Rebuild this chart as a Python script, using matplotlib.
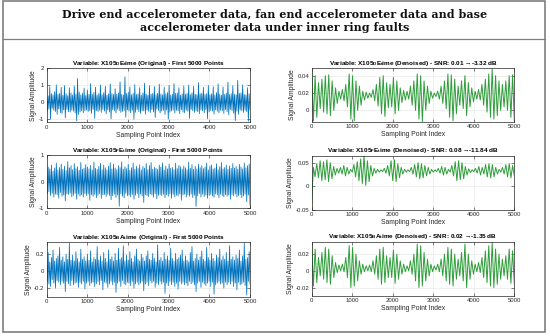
import numpy as np
import matplotlib.pyplot as plt
from matplotlib.patches import Rectangle
from matplotlib.lines import Line2D

plt.rcParams["mathtext.fontset"] = "custom"
plt.rcParams["mathtext.bf"] = "Liberation Sans:bold"
plt.rcParams["mathtext.rm"] = "Liberation Sans"

# ---------------------------------------------------------------------------
# Values (raw signals: successive peak values,
# denoised signals: per-cycle highs and lows)
# ---------------------------------------------------------------------------
de_raw = [
    0.45, -0.52, 0.38, -0.41, 0.92, -0.98, 0.51, -0.36, 0.44, -0.48,
    0.62, -0.55, 1.02, -0.71, 0.47, -0.39, 0.52, -0.61, 0.88, -0.66,
    0.41, -0.45, 0.98, -0.92, 0.50, -0.43, 0.39, -0.56, 0.86, -0.58,
    0.55, -0.47, 0.43, -0.52, 0.96, -0.63, 0.48, -1.10, 1.40, -0.72,
    0.60, -0.58, 0.44, -0.49, 0.53, -0.62, 0.84, -0.51, 0.40, -0.46,
    0.72, -0.54, 0.47, -0.50, 1.10, -0.66, 0.46, -0.42, 0.58, -0.95,
    0.89, -0.49, 0.42, -0.55, 0.50, -0.47, 1.02, -0.60, 0.45, -0.43,
    0.56, -0.52, 0.94, -0.68, 0.41, -0.46, 0.49, -0.57, 1.08, -0.98,
    0.52, -0.44, 0.46, -0.51, 0.80, -0.63, 0.48, -0.41, 0.55, -0.49,
    1.20, -0.60, 0.47, -0.54, 0.43, -0.48, 1.50, -0.88, 0.51, -0.45,
    0.58, -0.52, 0.90, -0.62, 0.44, -0.47, 0.52, -1.00, 1.04, -0.59,
    0.46, -0.43, 0.50, -0.55, 0.86, -0.66, 0.42, -0.49, 0.55, -0.51,
    1.12, -0.70, 0.48, -0.46, 0.41, -0.53, 0.98, -0.61, 0.47, -0.44,
    0.52, -0.57, 0.92, -0.90, 0.45, -0.41, 0.53, -0.48, 1.06, -0.63,
    0.49, -0.52, 0.44, -0.47, 0.88, -0.72, 0.50, -0.45, 0.58, -0.99,
    1.00, -0.58, 0.43, -0.51, 0.47, -0.46, 1.10, -0.64, 0.52, -0.48,
    0.55, -0.50, 0.86, -0.67, 0.42, -0.44, 0.49, -0.58, 0.96, -0.62,
    0.48, -0.46, 0.52, -0.53, 1.02, -0.95, 0.45, -0.42, 0.56, -0.50,
    0.94, -0.60, 0.47, -0.49, 0.44, -0.55, 1.15, -0.68, 0.50, -0.46,
    0.53, -0.51, 0.88, -0.63, 0.46, -0.43, 0.51, -0.97, 1.00, -0.57,
    0.45, -0.48, 0.49, -0.52, 0.92, -0.70, 0.43, -0.45, 0.57, -0.53,
    1.08, -0.62, 0.48, -0.47, 0.42, -0.51, 0.90, -0.66, 0.46, -0.44,
    0.54, -0.56, 1.18, -0.74, 0.45, -0.42, 0.50, -0.49, 0.98, -0.64,
    0.47, -1.08, 0.44, -0.53, 1.30, -0.71, 0.52, -0.46, 0.55, -0.50,
    1.02, -0.60, 0.46, -0.48, 0.43, -0.55, 0.86, -1.12, 0.50, -0.45,
]

fe_raw = [
    0.42, -0.45, 0.55, -0.38, 0.48, -0.52, 0.62, -0.44, 0.40, -0.58,
    0.51, -0.47, 0.70, -0.49, 0.44, -0.62, 0.53, -0.41, 0.66, -0.55,
    0.46, -0.50, 0.58, -0.72, 0.42, -0.46, 0.75, -0.48, 0.52, -0.43,
    0.60, -0.57, 0.45, -0.51, 0.68, -0.44, 0.49, -0.66, 0.56, -0.47,
    0.43, -0.54, 0.72, -0.49, 0.47, -0.58, 0.50, -0.45, 0.64, -0.52,
    0.55, -0.46, 0.48, -0.70, 0.61, -0.49, 0.44, -0.55, 0.73, -0.48,
    0.50, -0.60, 0.46, -0.51, 0.57, -0.45, 0.69, -0.63, 0.45, -0.50,
    0.62, -0.48, 0.52, -0.56, 0.44, -0.47, 0.58, -0.52, 0.71, -0.68,
    0.48, -0.53, 0.66, -0.47, 0.51, -0.59, 0.45, -0.50, 0.60, -0.92,
    0.53, -0.46, 0.74, -0.55, 0.47, -0.61, 0.56, -0.44, 0.49, -0.53,
    0.65, -0.50, 0.43, -0.57, 0.52, -0.48, 0.70, -0.66, 0.46, -0.51,
    0.58, -0.45, 0.49, -0.60, 0.63, -0.47, 0.44, -0.54, 0.57, -0.78,
    0.51, -0.49, 0.68, -0.52, 0.45, -0.56, 0.60, -0.46, 0.72, -0.50,
    0.47, -0.58, 0.54, -0.45, 0.50, -0.64, 0.46, -0.51, 0.62, -0.48,
    0.55, -0.52, 0.71, -0.47, 0.44, -0.60, 0.58, -0.49, 0.48, -0.55,
    0.66, -0.46, 0.50, -0.62, 0.53, -0.48, 0.45, -0.57, 0.69, -0.51,
    0.49, -0.54, 0.61, -0.46, 0.56, -0.70, 0.47, -0.50, 0.59, -0.47,
    0.52, -0.58, 0.45, -0.49, 0.73, -0.55, 0.50, -0.47, 0.64, -0.60,
    0.46, -0.51, 0.57, -0.93, 0.48, -0.53, 0.66, -0.45, 0.52, -0.58,
    0.60, -0.47, 0.49, -0.56, 0.55, -0.50, 0.70, -0.62, 0.44, -0.52,
    0.58, -0.48, 0.63, -0.54, 0.47, -0.59, 0.51, -0.46, 0.67, -0.50,
    0.45, -0.61, 0.56, -0.47, 0.72, -0.52, 0.48, -0.57, 0.53, -0.49,
    0.62, -0.55, 0.46, -0.50, 0.59, -0.66, 0.50, -0.48, 0.68, -0.53,
    0.51, -0.46, 0.57, -0.58, 0.47, -0.52, 0.65, -0.49, 0.55, -0.60,
    0.48, -0.54, 0.70, -0.47, 0.52, -0.75, 0.60, -0.50, 0.66, -0.88,
]

ba_raw = [
    0.14, -0.12, 0.22, -0.15, 0.11, -0.18, 0.16, -0.10, 0.25, -0.14,
    0.12, -0.20, 0.15, -0.11, 0.18, -0.13, 0.28, -0.16, 0.13, -0.12,
    0.17, -0.14, 0.11, -0.24, 0.20, -0.12, 0.14, -0.15, 0.33, -0.17,
    0.13, -0.11, 0.19, -0.16, 0.12, -0.14, 0.23, -0.13, 0.15, -0.19,
    0.11, -0.13, 0.26, -0.15, 0.14, -0.12, 0.17, -0.21, 0.12, -0.14,
    0.20, -0.12, 0.13, -0.17, 0.24, -0.14, 0.11, -0.13, 0.16, -0.18,
    0.14, -0.15, 0.29, -0.12, 0.13, -0.16, 0.18, -0.11, 0.12, -0.22,
    0.22, -0.13, 0.15, -0.14, 0.11, -0.19, 0.25, -0.15, 0.14, -0.12,
    0.17, -0.16, 0.12, -0.13, 0.21, -0.25, 0.13, -0.14, 0.27, -0.12,
    0.14, -0.18, 0.16, -0.11, 0.30, -0.15, 0.12, -0.16, 0.19, -0.13,
    0.13, -0.14, 0.23, -0.17, 0.15, -0.12, 0.11, -0.20, 0.18, -0.15,
    0.26, -0.13, 0.14, -0.16, 0.12, -0.14, 0.20, -0.12, 0.16, -0.23,
    0.12, -0.15, 0.18, -0.13, 0.24, -0.17, 0.14, -0.11, 0.13, -0.14,
    0.21, -0.12, 0.15, -0.19, 0.11, -0.14, 0.31, -0.16, 0.13, -0.12,
    0.16, -0.15, 0.12, -0.13, 0.22, -0.26, 0.14, -0.14, 0.18, -0.17,
    0.13, -0.12, 0.27, -0.16, 0.15, -0.13, 0.12, -0.18, 0.21, -0.14,
    0.14, -0.21, 0.16, -0.12, 0.19, -0.15, 0.25, -0.13, 0.12, -0.16,
    0.18, -0.14, 0.13, -0.17, 0.11, -0.12, 0.22, -0.15, 0.29, -0.13,
    0.12, -0.16, 0.15, -0.24, 0.20, -0.14, 0.13, -0.12, 0.17, -0.19,
    0.24, -0.13, 0.14, -0.15, 0.12, -0.17, 0.28, -0.14, 0.16, -0.12,
    0.13, -0.18, 0.21, -0.13, 0.15, -0.27, 0.12, -0.16, 0.19, -0.14,
    0.16, -0.12, 0.26, -0.15, 0.13, -0.14, 0.18, -0.20, 0.14, -0.13,
    0.22, -0.16, 0.12, -0.13, 0.30, -0.15, 0.14, -0.12, 0.17, -0.18,
    0.13, -0.14, 0.19, -0.22, 0.15, -0.13, 0.25, -0.16, 0.12, -0.15,
    0.18, -0.13, 0.33, -0.17, 0.14, -0.28, 0.16, -0.12, 0.23, -0.15,
]

de_den_hi = [
    .046, .040, .032, .036, .040, .041, .034, .026, .022, .024,
    .030, .042, .040, .034, .028, .022, .021, .020, .024, .030,
    .038, .040, .032, .030, .038, .034, .026, .023, .022, .028,
    .034, .042, .040, .034, .028, .022, .020, .022, .028, .034,
    .042, .041, .036, .028, .034, .040, .032, .026, .022, .024,
    .030, .036, .042, .048, .040, .034, .030, .034, .040, .041,
]
de_den_lo = [
    -.012, -.008, .002, -.002, -.004, -.006, .000, .008, .013, .011,
    .004, -.010, -.012, .000, .006, .012, .014, .015, .011, .005,
    -.004, -.007, .003, .004, -.004, .000, .009, .012, .013, .006,
    .000, -.010, -.013, .000, .008, .014, .016, .013, .008, .002,
    -.008, -.012, -.004, .006, .002, -.006, .004, .010, .013, .012,
    .006, -.002, -.008, -.010, -.006, .000, .004, .000, -.008, -.012,
]

fe_den_start = -0.035
fe_den_hi = [
    .040, .048, .054, .052, .056, .050, .042, .038, .040, .044,
    .040, .036, .046, .052, .058, .065, .054, .044, .038, .036,
    .035, .038, .044, .054, .056, .048, .040, .036, .035, .040,
    .046, .050, .048, .044, .040, .036, .035, .038, .042, .040,
    .036, .044, .052, .054, .050, .042, .037, .035, .038, .042,
    .040, .046, .048, .046, .040, .036, .040, .046, .048, .044,
]
fe_den_lo = [
    .020, .018, .012, .014, .010, .016, .024, .028, .026, .022,
    .026, .030, .020, .012, .006, .002, .010, .022, .028, .030,
    .031, .028, .022, .012, .010, .018, .026, .030, .031, .026,
    .020, .016, .018, .022, .026, .030, .031, .028, .024, .026,
    .030, .022, .012, .014, .016, .024, .029, .031, .028, .024,
    .026, .020, .018, .020, .026, .030, .026, .020, .018, .022,
]

ba_den_hi = [
    .032, .026, .016, .022, .028, .026, .018, .010, .007, .008,
    .016, .030, .028, .020, .012, .008, .006, .007, .012, .018,
    .026, .028, .018, .016, .025, .020, .012, .008, .006, .012,
    .020, .032, .030, .022, .014, .008, .006, .008, .014, .020,
    .028, .026, .020, .014, .022, .032, .020, .012, .008, .010,
    .016, .024, .030, .034, .026, .020, .014, .018, .026, .024,
]
ba_den_lo = [
    -.018, -.014, -.006, -.010, -.014, -.016, -.008, -.002, .000, -.001,
    -.008, -.020, -.018, -.012, -.004, -.001, .000, -.001, -.004, -.010,
    -.016, -.014, -.008, -.008, -.015, -.010, -.004, -.001, .000, -.004,
    -.012, -.020, -.018, -.012, -.006, -.001, .001, -.001, -.006, -.012,
    -.016, -.018, -.010, -.006, -.012, -.020, -.010, -.004, -.001, -.002,
    -.008, -.014, -.018, -.020, -.016, -.010, -.006, -.010, -.015, -.016,
]

n_points = 5000
xtick_vals = [0, 1000, 2000, 3000, 4000, 5000]

BLUE = "#0072BD"
GREEN = "#2E9E3A"
SANS = ["Liberation Sans", "DejaVu Sans"]


def interleave(hi, lo, start=None):
    sig = np.empty(2 * len(hi))
    sig[0::2] = hi
    sig[1::2] = lo
    if start is not None:
        sig = np.concatenate([[start], sig])
    return sig


def style_axes(ax, ylim, yticks):
    ax.set_xlim(0, n_points)
    ax.set_ylim(*ylim)
    ax.set_xticks(xtick_vals)
    ax.set_yticks(yticks)
    ax.set_yticklabels([f"{v:g}" for v in yticks])
    ax.grid(True, color="#e3e3e3", linewidth=0.4)
    ax.set_axisbelow(True)
    for sp in ax.spines.values():
        sp.set_linewidth(0.5)
        sp.set_color("#262626")
    ax.tick_params(direction="in", length=2, width=0.4, pad=1.6,
                   labelsize=4.3, labelcolor="#262626", colors="#262626",
                   top=True, right=True)
    for lab in ax.get_xticklabels() + ax.get_yticklabels():
        lab.set_family(SANS)
    ax.set_xlabel("Sampling Point Index", fontsize=4.9, family=SANS,
                  color="#262626", labelpad=1.5)
    ax.set_ylabel("Signal Amplitude", fontsize=4.9, family=SANS,
                  color="#262626", labelpad=1.5)


W, H = 550, 336
fig = plt.figure(figsize=(W / 100, H / 100), dpi=100)

# frame and header
fig.add_artist(Rectangle((2.5 / W, 4 / H), 542 / W, 331 / H,
                         transform=fig.transFigure, fill=False,
                         edgecolor="#7f7f7f", linewidth=1.2))
fig.add_artist(Line2D([2.5 / W, 544.5 / W], [1 - 39 / H, 1 - 39 / H],
                      transform=fig.transFigure, color="#7f7f7f", linewidth=0.9))
fig.text(0.5, 1 - 21 / H,
         "Drive end accelerometer data, fan end accelerometer data and base\n"
         "accelerometer data under inner ring faults",
         ha="center", va="center", family="DejaVu Serif", weight="bold",
         fontsize=8.0, linespacing=1.25, color="#111111")

# axes rectangles in pixels: (left, top, right, bottom)
left_boxes = [(46.5, 68.3, 250, 122.3), (46.5, 155, 250, 208.3), (46.5, 242.3, 250, 296.7)]
right_boxes = [(311.7, 68.3, 514.3, 121.7), (311.7, 155.7, 514.3, 210), (311.7, 241.7, 514.3, 296)]


def make_ax(box):
    l, t, r, b = box
    return fig.add_axes([l / W, 1 - b / H, (r - l) / W, (b - t) / H])


names = [r"$\mathbf{X105_{D}E_{t}ime}$",
         r"$\mathbf{X105_{F}E_{t}ime}$",
         r"$\mathbf{X105_{B}A_{t}ime}$"]
snr_text = ["0.01 \u2192-3.32 dB", "0.08 \u2192-11.84 dB", "0.02 \u2192-1.35 dB"]

raw_sets = [de_raw, fe_raw, ba_raw]
raw_ylims = [(-1.18, 2.0), (-1.0, 1.0), (-0.30, 0.34)]
raw_yticks = [[-1, 0, 1, 2], [-1, 0, 1], [-0.2, 0, 0.2]]

den_sets = [interleave(de_den_hi, de_den_lo),
            interleave(fe_den_hi, fe_den_lo, fe_den_start),
            interleave(ba_den_hi, ba_den_lo)]
den_ylims = [(-0.013, 0.0485), (-0.05, 0.0648), (-0.030, 0.0348)]
den_yticks = [[0, 0.02, 0.04], [-0.05, 0, 0.05], [-0.02, 0, 0.02]]

for i in range(3):
    ax = make_ax(left_boxes[i])
    y = np.asarray(raw_sets[i])
    x = np.linspace(0, n_points, len(y))
    ax.plot(x, y, color=BLUE, linewidth=0.55)
    style_axes(ax, raw_ylims[i], raw_yticks[i])
    ax.set_title(f"Variable: {names[i]} (Original) - First 5000 Points",
                 fontsize=4.6, weight="bold", family=SANS, pad=2.5)

    ax = make_ax(right_boxes[i])
    y = den_sets[i]
    x = np.linspace(0, n_points, len(y))
    ax.plot(x, y, color=GREEN, linewidth=0.7)
    style_axes(ax, den_ylims[i], den_yticks[i])
    ax.set_title(f"Variable: {names[i]} (Denoised) - SNR: {snr_text[i]}",
                 fontsize=4.6, weight="bold", family=SANS, pad=2.5)

fig.savefig("out.png", dpi=100)
